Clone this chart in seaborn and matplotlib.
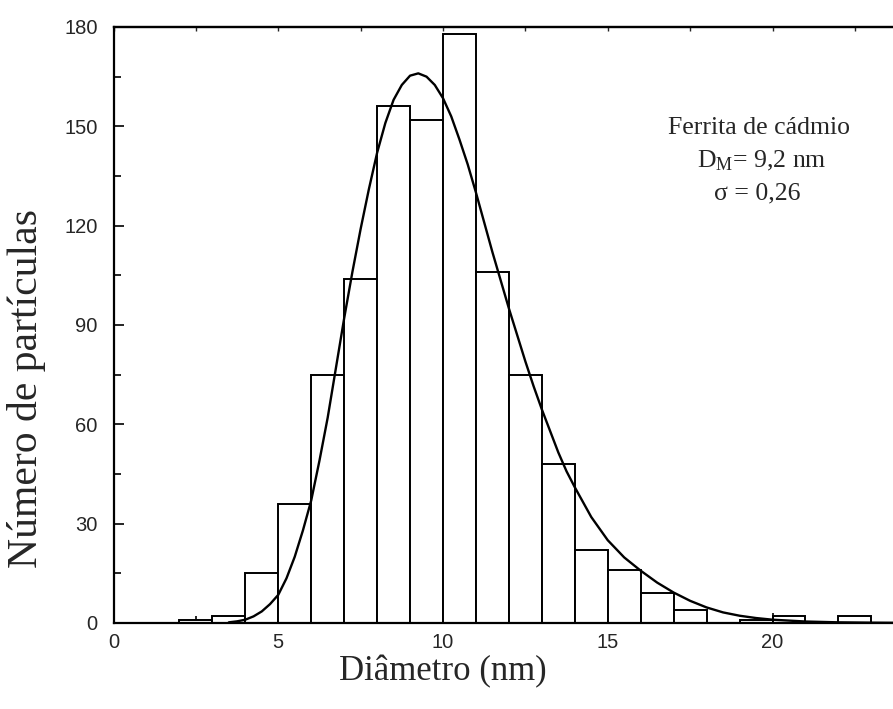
import matplotlib
matplotlib.use("Agg")
import matplotlib.pyplot as plt
from matplotlib.ticker import FixedLocator
import seaborn as sns
import pandas as pd

# ---- data ----
bin_left = [2, 3, 4, 5, 6, 7, 8, 9, 10, 11, 12, 13, 14, 15, 16, 17, 18, 19, 20, 21, 22]
counts = [1, 2, 15, 36, 75, 104, 156, 152, 178, 106, 75, 48, 22, 16, 9, 4, 0, 1, 2, 0, 2]

fit_x = [3.5, 3.75, 4.0, 4.25, 4.5, 4.75, 5.0, 5.25, 5.5, 5.75, 6.0, 6.25, 6.5, 6.75,
         7.0, 7.25, 7.5, 7.75, 8.0, 8.25, 8.5, 8.75, 9.0, 9.25, 9.5, 9.75, 10.0,
         10.25, 10.5, 10.75, 11.0, 11.25, 11.5, 11.75, 12.0, 12.25, 12.5, 12.75,
         13.0, 13.25, 13.5, 13.75, 14.0, 14.5, 15.0, 15.5, 16.0, 16.5, 17.0, 17.5,
         18.0, 18.5, 19.0, 19.5, 20.0, 21.0, 22.0, 23.0, 24.0, 25.0]
fit_y = [0.2, 0.5, 1.0, 2.0, 3.5, 5.7, 8.5, 13.5, 20, 28, 37, 49, 62, 77,
         92, 106, 119, 131, 142, 151, 158, 162.5, 165.3, 166, 165, 162.5, 158.5,
         153, 146, 138.5, 130, 121, 112, 103.5, 95, 87, 79, 71.5,
         64.5, 58, 51.5, 45.8, 41, 32, 25, 19.8, 15.8, 12.2, 9.2, 6.7,
         4.7, 3.2, 2.2, 1.5, 1.0, 0.45, 0.2, 0.1, 0.04, 0.02]

x_ticks = [0, 5, 10, 15, 20]
x_minor = [2.5, 7.5, 12.5, 17.5, 22.5]
y_ticks = [0, 30, 60, 90, 120, 150, 180]
y_minor = [15, 45, 75, 105, 135, 165]

x_label = "Diâmetro (nm)"
y_label = "Número de partículas"
note_lines = ["Ferrita de cádmio", r"D$_{\mathregular{M}}$= 9,2 nm", "σ = 0,26"]

# ---- styling ----
sns.set_style("ticks")
plt.rcParams["font.family"] = ["Liberation Sans", "DejaVu Sans"]
plt.rcParams["mathtext.fontset"] = "custom"
plt.rcParams["mathtext.rm"] = "Liberation Serif"
plt.rcParams["mathtext.it"] = "Liberation Serif:italic"

W, H = 893, 709
fig = plt.figure(figsize=(W / 100, H / 100), dpi=100)
x0_px, y0_px, ytop_px = 113.5, 623.0, 27.0
px_per_unit = 32.95
xmax = 25.0
ax = fig.add_axes([x0_px / W, 1 - y0_px / H, xmax * px_per_unit / W, (y0_px - ytop_px) / H])

df = pd.DataFrame({"d": [b + 0.5 for b in bin_left], "n": counts})
edges = bin_left + [bin_left[-1] + 1]
sns.histplot(data=df, x="d", weights="n", bins=edges, ax=ax,
             color="white", edgecolor="black", linewidth=1.4, alpha=1.0)

fit = pd.DataFrame({"x": fit_x, "y": fit_y})
sns.lineplot(data=fit, x="x", y="y", ax=ax, color="black", linewidth=1.7,
             sort=False, estimator=None)

ax.set_xlim(0, xmax)
ax.set_ylim(0, 180)
ax.xaxis.set_major_locator(FixedLocator(x_ticks))
ax.xaxis.set_minor_locator(FixedLocator(x_minor))
ax.yaxis.set_major_locator(FixedLocator(y_ticks))
ax.yaxis.set_minor_locator(FixedLocator(y_minor))
ax.tick_params(axis="both", which="both", direction="in", top=False, right=False,
               width=1.2, color="black")
ax.tick_params(axis="both", which="major", length=7, labelsize=14.5)
ax.tick_params(axis="both", which="minor", length=5)
ax.tick_params(axis="x", which="both", pad=7)
ax.tick_params(axis="y", which="both", pad=11.5)
for s in ["left", "bottom", "top", "right"]:
    ax.spines[s].set_linewidth(1.6)
    ax.spines[s].set_color("black")
ax.set_xlabel("")
ax.set_ylabel("")

# short ticks along the top edge
sec = ax.secondary_xaxis("top")
sec.xaxis.set_major_locator(FixedLocator(x_ticks + x_minor))
sec.tick_params(axis="x", direction="in", length=3, width=1.0, labeltop=False)
sec.spines["top"].set_linewidth(1.6)

serif = ["Liberation Serif", "DejaVu Serif"]
fig.text(443 / W, 1 - 672 / H, x_label, ha="center", va="center",
         fontsize=25, family=serif)
fig.text(27 / W, 1 - 388 / H, y_label, ha="center", va="center",
         rotation=90, fontsize=30, family=serif)

note_pos = [(759, 128), (762, 161), (757, 193)]
for txt, (px, py) in zip(note_lines, note_pos):
    fig.text(px / W, 1 - py / H, txt, ha="center", va="center",
             fontsize=18.5, family=serif)

fig.savefig("out.png", dpi=100)
